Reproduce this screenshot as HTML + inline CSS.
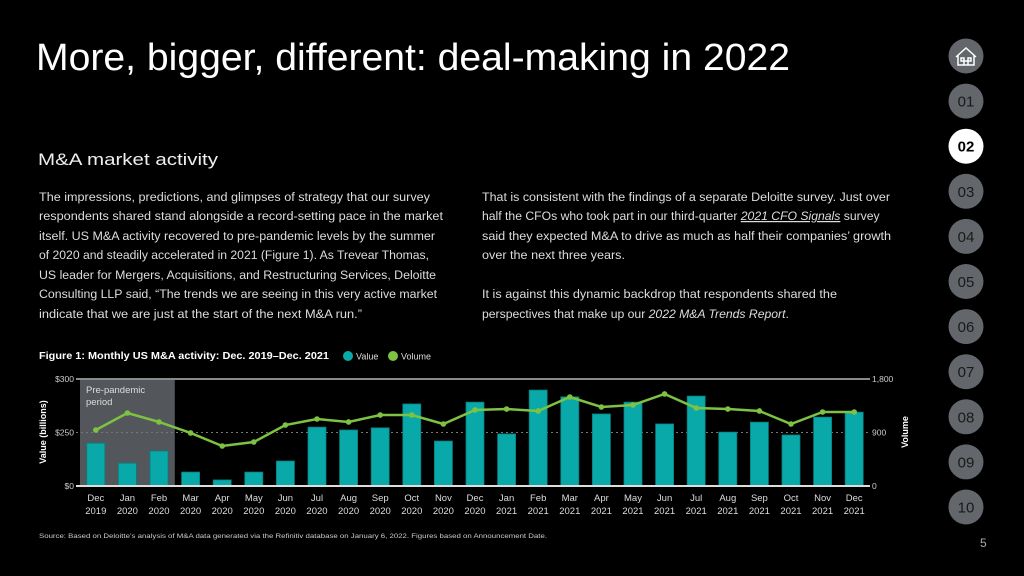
<!DOCTYPE html>
<html><head><meta charset="utf-8"><style>
html,body{margin:0;padding:0;background:#000;}
svg{display:block;font-family:"Liberation Sans",sans-serif;}
</style></head><body>
<svg id="page" width="1024" height="576" viewBox="0 0 1024 576">
<rect width="1024" height="576" fill="#000"/>
<text x="36" y="70" font-size="38" fill="#fff" textLength="754" lengthAdjust="spacingAndGlyphs">More, bigger, different: deal-making in 2022</text>
<text x="38" y="165" font-size="17" fill="#eee" textLength="180" lengthAdjust="spacingAndGlyphs">M&amp;A market activity</text>
<g font-size="12.2" fill="#ddd">
<text x="39" y="201" textLength="391" lengthAdjust="spacingAndGlyphs">The impressions, predictions, and glimpses of strategy that our survey</text>
<text x="39" y="220" textLength="404" lengthAdjust="spacingAndGlyphs">respondents shared stand alongside a record-setting pace in the market</text>
<text x="39" y="240" textLength="396" lengthAdjust="spacingAndGlyphs">itself. US M&amp;A activity recovered to pre-pandemic levels by the summer</text>
<text x="39" y="259" textLength="390" lengthAdjust="spacingAndGlyphs">of 2020 and steadily accelerated in 2021 (Figure 1). As Trevear Thomas,</text>
<text x="39" y="279" textLength="397" lengthAdjust="spacingAndGlyphs">US leader for Mergers, Acquisitions, and Restructuring Services, Deloitte</text>
<text x="39" y="298" textLength="398" lengthAdjust="spacingAndGlyphs">Consulting LLP said, “The trends we are seeing in this very active market</text>
<text x="39" y="318" textLength="323" lengthAdjust="spacingAndGlyphs">indicate that we are just at the start of the next M&amp;A run.”</text>
</g>
<g font-size="12.2" fill="#ddd">
<text x="482" y="201" textLength="408" lengthAdjust="spacingAndGlyphs">That is consistent with the findings of a separate Deloitte survey. Just over</text>
<text x="482" y="220">half the CFOs who took part in our third-quarter <tspan font-style="italic" text-decoration="underline">2021 CFO Signals</tspan> survey</text>
<text x="482" y="240" textLength="409" lengthAdjust="spacingAndGlyphs">said they expected M&amp;A to drive as much as half their companies’ growth</text>
<text x="482" y="259" textLength="143" lengthAdjust="spacingAndGlyphs">over the next three years.</text>
<text x="482" y="298" textLength="355" lengthAdjust="spacingAndGlyphs">It is against this dynamic backdrop that respondents shared the</text>
<text x="482" y="318">perspectives that make up our <tspan font-style="italic">2022 M&amp;A Trends Report</tspan>.</text>
</g>
<text x="39" y="359" font-size="10.5" font-weight="bold" fill="#fff" textLength="290" lengthAdjust="spacingAndGlyphs">Figure 1: Monthly US M&amp;A activity: Dec. 2019–Dec. 2021</text>
<circle cx="348" cy="356" r="5" fill="#0aa9a9"/>
<text x="356" y="359.5" font-size="9" fill="#ddd">Value</text>
<circle cx="393" cy="356" r="5" fill="#7dc242"/>
<text x="401" y="359.5" font-size="9" fill="#ddd">Volume</text>
<g id="chart"></g>
<text x="39" y="538" font-size="6.5" fill="#ccc" textLength="508" lengthAdjust="spacingAndGlyphs">Source: Based on Deloitte’s analysis of M&amp;A data generated via the Refinitiv database on January 6, 2022. Figures based on Announcement Date.</text>
<text x="980" y="547" font-size="12" fill="#aaa">5</text>
<g id="nav"></g>
</svg>
<script>
const months = ["Dec","Jan","Feb","Mar","Apr","May","Jun","Jul","Aug","Sep","Oct","Nov","Dec","Jan","Feb","Mar","Apr","May","Jun","Jul","Aug","Sep","Oct","Nov","Dec"];
const years = ["2019","2020","2020","2020","2020","2020","2020","2020","2020","2020","2020","2020","2020","2021","2021","2021","2021","2021","2021","2021","2021","2021","2021","2021","2021"];
const values = [120,64,98,39,17,39,70,165,157,163,230,126,235,146,269,250,202,235,174,252,151,179,143,193,207];
const volumes = [942,1228,1077,892,673,740,1026,1127,1077,1194,1194,1043,1279,1295,1262,1497,1329,1363,1548,1312,1295,1262,1043,1245,1245];
const leftTicks = ["$0","$250","$300"];
const rightTicks = ["0","900","1,800"];
const valueMax = 300, volumeMax = 1800;

const NS="http://www.w3.org/2000/svg";
const chart=document.getElementById('chart');
const X0=80,X1=870,YT=379,YB=486;
const step=(X1-X0)/months.length;
const xAt=i=>X0+step*(i+0.5);
const yVal=v=>YB-(v/valueMax)*(YB-YT);
const yVol=v=>YB-(v/volumeMax)*(YB-YT);
function mk(tag,attrs,parent){const e=document.createElementNS(NS,tag);for(const k in attrs)e.setAttribute(k,attrs[k]);(parent||chart).appendChild(e);return e;}

let r=mk('rect',{x:X0,y:YT,width:step*3,height:YB-YT,fill:'#53565a'});


let t=mk('text',{x:X0+6,y:YT+14,'font-size':9.5,fill:'#ddd'});t.textContent='Pre-pandemic';


t=mk('text',{x:X0+6,y:YT+26,'font-size':9.5,fill:'#ddd'});t.textContent='period';



let g=mk('line',{x1:X0-4,x2:X1,y1:YT,y2:YT,stroke:'#8a8a8a','stroke-width':2});


g=mk('line',{x1:X0-4,x2:X1,y1:(YT+YB)/2,y2:(YT+YB)/2,stroke:'#777','stroke-width':1,'stroke-dasharray':'2,3'});



const tickY=[YB,(YT+YB)/2,YT];
leftTicks.forEach((s,i)=>{const e=mk('text',{x:74,y:tickY[i]+3,'font-size':8.5,fill:'#ccc','text-anchor':'end'});e.textContent=s;

});
rightTicks.forEach((s,i)=>{const e=mk('text',{x:872,y:tickY[i]+3,'font-size':8.5,fill:'#ccc'});e.textContent=s;

});

values.forEach((v,i)=>{const b=mk('rect',{x:xAt(i)-9,y:yVal(v),width:18,height:YB-yVal(v),fill:'#0aa9a9',stroke:'#087f80','stroke-width':0.8});

});

g=mk('line',{x1:X0-4,x2:X1,y1:YB,y2:YB,stroke:'#ddd','stroke-width':2});



const pts=volumes.map((v,i)=>xAt(i)+','+yVol(v)).join(' ');
let pl=mk('polyline',{points:pts,fill:'none',stroke:'#7dc242','stroke-width':2.5});


volumes.forEach((v,i)=>{const c=mk('circle',{cx:xAt(i),cy:yVol(v),r:2.8,fill:'#7dc242'});

});

months.forEach((m,i)=>{
 const a=mk('text',{x:xAt(i),y:501,'font-size':9.5,fill:'#ddd','text-anchor':'middle'});a.textContent=m;
 
 
 const b=mk('text',{x:xAt(i),y:514,'font-size':9.5,fill:'#ddd','text-anchor':'middle'});b.textContent=years[i];
 
 
});
let ya=mk('text',{x:0,y:0,'font-size':9,'font-weight':'bold',fill:'#fff','text-anchor':'middle',transform:'translate(46,432) rotate(-90)'});ya.textContent='Value (billions)';


ya=mk('text',{x:0,y:0,'font-size':9,'font-weight':'bold',fill:'#fff','text-anchor':'middle',transform:'translate(908,432) rotate(-90)'});ya.textContent='Volume';



const nav=document.getElementById('nav');
const labels=["","01","02","03","04","05","06","07","08","09","10"];
labels.forEach((l,i)=>{
 const cy=56+i*45.1;
 const c=mk('circle',{cx:966,cy:cy,r:17.5,fill:i===2?'#fff':'#63666a'},nav);
 
 
 if(i===0){
  const h=mk('path',{d:'M956 57 L966 48 L976 57 M958 55 V65 H974 V55 M961 58 h3 v3 h-3z M968 58 h3 v3 h-3z M964 65 v-4 h4 v4',fill:'none',stroke:'#fff','stroke-width':1.5},nav);
  
  
 } else {
  const tx=mk('text',{x:966,y:cy+5.5,'font-size':15,'text-anchor':'middle',fill:i===2?'#000':'#1a1a1a','font-weight':i===2?'bold':'normal'},nav);
  tx.textContent=l;
  
  
 }
});
</script>
</body></html>
